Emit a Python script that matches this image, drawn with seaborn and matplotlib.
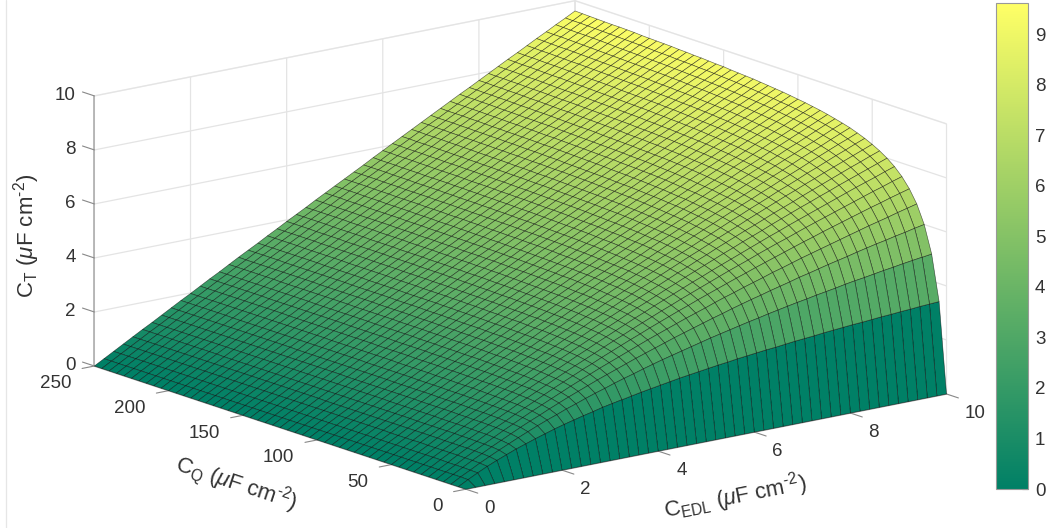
import numpy as np
import matplotlib
matplotlib.use('Agg')
import matplotlib.pyplot as plt
import seaborn as sns
from matplotlib.cm import ScalarMappable
from matplotlib.colors import Normalize
from matplotlib.lines import Line2D

# values; C_EDL columns kept every 0.2 (the original mesh is finer, every 0.1)
c_edl = [0, 0.2, 0.4, 0.6, 0.8, 1.0, 1.2, 1.4, 1.6, 1.8, 2.0,
         2.2, 2.4, 2.6, 2.8, 3.0, 3.2, 3.4, 3.6, 3.8, 4.0,
         4.2, 4.4, 4.6, 4.8, 5.0, 5.2, 5.4, 5.6, 5.8, 6.0,
         6.2, 6.4, 6.6, 6.8, 7.0, 7.2, 7.4, 7.6, 7.8, 8.0,
         8.2, 8.4, 8.6, 8.8, 9.0, 9.2, 9.4, 9.6, 9.8, 10.0]
c_q = [0, 5, 10, 15, 20, 25, 30, 35, 40, 45, 50, 55, 60, 65, 70, 75, 80, 85, 90, 95,
       100, 105, 110, 115, 120, 125, 130, 135, 140, 145, 150, 155, 160, 165, 170, 175,
       180, 185, 190, 195, 200, 205, 210, 215, 220, 225, 230, 235, 240, 245, 250]

ct_q000 = [0, 0, 0, 0, 0, 0, 0, 0, 0, 0, 0,
           0, 0, 0, 0, 0, 0, 0, 0, 0, 0,
           0, 0, 0, 0, 0, 0, 0, 0, 0, 0,
           0, 0, 0, 0, 0, 0, 0, 0, 0, 0,
           0, 0, 0, 0, 0, 0, 0, 0, 0, 0]
ct_q005 = [0, .19, .37, .54, .69, .83, .97, 1.09, 1.21, 1.32, 1.43,
           1.53, 1.62, 1.71, 1.79, 1.88, 1.95, 2.02, 2.09, 2.16, 2.22,
           2.28, 2.34, 2.40, 2.45, 2.50, 2.55, 2.60, 2.64, 2.69, 2.73,
           2.77, 2.81, 2.84, 2.88, 2.92, 2.95, 2.98, 3.02, 3.05, 3.08,
           3.11, 3.13, 3.16, 3.19, 3.21, 3.24, 3.26, 3.29, 3.31, 3.33]
ct_q010 = [0, .20, .38, .57, .74, .91, 1.07, 1.23, 1.38, 1.53, 1.67,
           1.80, 1.94, 2.06, 2.19, 2.31, 2.42, 2.54, 2.65, 2.75, 2.86,
           2.96, 3.06, 3.15, 3.24, 3.33, 3.42, 3.51, 3.59, 3.67, 3.75,
           3.83, 3.90, 3.98, 4.05, 4.12, 4.19, 4.25, 4.32, 4.38, 4.44,
           4.51, 4.57, 4.62, 4.68, 4.74, 4.79, 4.85, 4.90, 4.95, 5.00]
ct_q015 = [0, .20, .39, .58, .76, .94, 1.11, 1.28, 1.45, 1.61, 1.76,
           1.92, 2.07, 2.22, 2.36, 2.50, 2.64, 2.77, 2.90, 3.03, 3.16,
           3.28, 3.40, 3.52, 3.64, 3.75, 3.86, 3.97, 4.08, 4.18, 4.29,
           4.39, 4.49, 4.58, 4.68, 4.77, 4.86, 4.96, 5.04, 5.13, 5.22,
           5.30, 5.38, 5.47, 5.55, 5.63, 5.70, 5.78, 5.85, 5.93, 6.00]
ct_q020 = [0, .20, .39, .58, .77, .95, 1.13, 1.31, 1.48, 1.65, 1.82,
           1.98, 2.14, 2.30, 2.46, 2.61, 2.76, 2.91, 3.05, 3.19, 3.33,
           3.47, 3.61, 3.74, 3.87, 4.00, 4.13, 4.25, 4.37, 4.50, 4.62,
           4.73, 4.85, 4.96, 5.07, 5.19, 5.29, 5.40, 5.51, 5.61, 5.71,
           5.81, 5.91, 6.01, 6.11, 6.21, 6.30, 6.39, 6.49, 6.58, 6.67]
ct_q025 = [0, .20, .39, .59, .78, .96, 1.15, 1.33, 1.50, 1.68, 1.85,
           2.02, 2.19, 2.36, 2.52, 2.68, 2.84, 2.99, 3.15, 3.30, 3.45,
           3.60, 3.74, 3.89, 4.03, 4.17, 4.31, 4.44, 4.58, 4.71, 4.84,
           4.97, 5.10, 5.22, 5.35, 5.47, 5.59, 5.71, 5.83, 5.95, 6.06,
           6.18, 6.29, 6.40, 6.51, 6.62, 6.73, 6.83, 6.94, 7.04, 7.14]
ct_q030 = [0, .20, .40, .59, .78, .97, 1.15, 1.34, 1.52, 1.70, 1.88,
           2.05, 2.22, 2.39, 2.56, 2.73, 2.89, 3.05, 3.21, 3.37, 3.53,
           3.68, 3.84, 3.99, 4.14, 4.29, 4.43, 4.58, 4.72, 4.86, 5.00,
           5.14, 5.28, 5.41, 5.54, 5.68, 5.81, 5.94, 6.06, 6.19, 6.32,
           6.44, 6.56, 6.68, 6.80, 6.92, 7.04, 7.16, 7.27, 7.39, 7.50]
ct_q035 = [0, .20, .40, .59, .78, .97, 1.16, 1.35, 1.53, 1.71, 1.89,
           2.07, 2.25, 2.42, 2.59, 2.76, 2.93, 3.10, 3.26, 3.43, 3.59,
           3.75, 3.91, 4.07, 4.22, 4.38, 4.53, 4.68, 4.83, 4.98, 5.12,
           5.27, 5.41, 5.55, 5.69, 5.83, 5.97, 6.11, 6.24, 6.38, 6.51,
           6.64, 6.77, 6.90, 7.03, 7.16, 7.29, 7.41, 7.53, 7.66, 7.78]
ct_q040 = [0, .20, .40, .59, .78, .98, 1.17, 1.35, 1.54, 1.72, 1.90,
           2.09, 2.26, 2.44, 2.62, 2.79, 2.96, 3.13, 3.30, 3.47, 3.64,
           3.80, 3.96, 4.13, 4.29, 4.44, 4.60, 4.76, 4.91, 5.07, 5.22,
           5.37, 5.52, 5.67, 5.81, 5.96, 6.10, 6.24, 6.39, 6.53, 6.67,
           6.81, 6.94, 7.08, 7.21, 7.35, 7.48, 7.61, 7.74, 7.87, 8.00]
ct_q045 = [0, .20, .40, .59, .79, .98, 1.17, 1.36, 1.54, 1.73, 1.91,
           2.10, 2.28, 2.46, 2.64, 2.81, 2.99, 3.16, 3.33, 3.50, 3.67,
           3.84, 4.01, 4.17, 4.34, 4.50, 4.66, 4.82, 4.98, 5.14, 5.29,
           5.45, 5.60, 5.76, 5.91, 6.06, 6.21, 6.35, 6.50, 6.65, 6.79,
           6.93, 7.08, 7.22, 7.36, 7.50, 7.64, 7.78, 7.91, 8.05, 8.18]
ct_q050 = [0, .20, .40, .60, .79, .98, 1.17, 1.36, 1.55, 1.74, 1.92,
           2.11, 2.29, 2.47, 2.65, 2.83, 3.01, 3.18, 3.36, 3.53, 3.70,
           3.88, 4.04, 4.21, 4.38, 4.55, 4.71, 4.87, 5.04, 5.20, 5.36,
           5.52, 5.67, 5.83, 5.99, 6.14, 6.29, 6.45, 6.60, 6.75, 6.90,
           7.05, 7.19, 7.34, 7.48, 7.63, 7.77, 7.91, 8.05, 8.19, 8.33]
ct_q055 = [0, .20, .40, .59, .79, .98, 1.17, 1.37, 1.56, 1.74, 1.93,
           2.12, 2.30, 2.48, 2.67, 2.84, 3.02, 3.20, 3.38, 3.55, 3.73,
           3.90, 4.07, 4.25, 4.41, 4.58, 4.75, 4.92, 5.08, 5.25, 5.41,
           5.57, 5.73, 5.89, 6.05, 6.21, 6.37, 6.52, 6.68, 6.83, 6.98,
           7.14, 7.28, 7.43, 7.59, 7.73, 7.88, 8.03, 8.17, 8.32, 8.46]
ct_q060 = [0, .20, .40, .59, .79, .98, 1.18, 1.37, 1.56, 1.75, 1.94,
           2.12, 2.31, 2.49, 2.68, 2.86, 3.04, 3.22, 3.40, 3.57, 3.75,
           3.93, 4.10, 4.27, 4.44, 4.62, 4.79, 4.95, 5.12, 5.29, 5.45,
           5.62, 5.78, 5.95, 6.11, 6.27, 6.43, 6.59, 6.75, 6.90, 7.06,
           7.21, 7.37, 7.52, 7.67, 7.83, 7.98, 8.13, 8.28, 8.42, 8.57]
ct_q065 = [0, .20, .40, .59, .79, .98, 1.18, 1.37, 1.56, 1.75, 1.94,
           2.13, 2.32, 2.50, 2.69, 2.87, 3.05, 3.23, 3.42, 3.59, 3.77,
           3.95, 4.12, 4.30, 4.47, 4.64, 4.81, 4.99, 5.15, 5.32, 5.49,
           5.66, 5.83, 5.99, 6.15, 6.32, 6.48, 6.64, 6.81, 6.96, 7.12,
           7.28, 7.44, 7.59, 7.75, 7.91, 8.06, 8.21, 8.37, 8.52, 8.67]
ct_q070 = [0, .20, .40, .59, .79, .99, 1.18, 1.37, 1.56, 1.75, 1.94,
           2.13, 2.32, 2.51, 2.69, 2.88, 3.06, 3.24, 3.42, 3.60, 3.78,
           3.96, 4.14, 4.32, 4.49, 4.67, 4.84, 5.01, 5.18, 5.35, 5.53,
           5.70, 5.86, 6.03, 6.20, 6.36, 6.53, 6.69, 6.85, 7.02, 7.18,
           7.34, 7.50, 7.66, 7.82, 7.97, 8.13, 8.28, 8.44, 8.60, 8.75]
ct_q075 = [0, .20, .40, .60, .79, .99, 1.18, 1.37, 1.57, 1.76, 1.95,
           2.14, 2.33, 2.52, 2.70, 2.88, 3.07, 3.25, 3.43, 3.62, 3.80,
           3.98, 4.16, 4.33, 4.51, 4.69, 4.86, 5.03, 5.20, 5.38, 5.56,
           5.72, 5.89, 6.06, 6.23, 6.40, 6.56, 6.73, 6.89, 7.06, 7.23,
           7.39, 7.55, 7.71, 7.87, 8.04, 8.19, 8.35, 8.51, 8.67, 8.82]
ct_q080 = [0, .20, .40, .60, .79, .99, 1.18, 1.38, 1.57, 1.76, 1.95,
           2.14, 2.33, 2.52, 2.71, 2.89, 3.08, 3.26, 3.45, 3.62, 3.81,
           3.99, 4.17, 4.35, 4.53, 4.71, 4.88, 5.05, 5.23, 5.40, 5.58,
           5.75, 5.92, 6.09, 6.26, 6.44, 6.60, 6.77, 6.94, 7.10, 7.27,
           7.44, 7.60, 7.76, 7.93, 8.09, 8.25, 8.41, 8.57, 8.73, 8.89]
ct_q085 = [0, .20, .40, .60, .79, .99, 1.18, 1.38, 1.57, 1.76, 1.95,
           2.14, 2.33, 2.52, 2.71, 2.90, 3.08, 3.27, 3.45, 3.64, 3.82,
           4.00, 4.18, 4.37, 4.55, 4.72, 4.90, 5.07, 5.25, 5.43, 5.60,
           5.78, 5.95, 6.12, 6.29, 6.47, 6.64, 6.81, 6.97, 7.14, 7.31,
           7.48, 7.64, 7.81, 7.97, 8.14, 8.30, 8.46, 8.63, 8.79, 8.95]
ct_q090 = [0, .20, .40, .60, .79, .99, 1.18, 1.38, 1.57, 1.76, 1.96,
           2.15, 2.34, 2.53, 2.72, 2.90, 3.09, 3.27, 3.46, 3.64, 3.83,
           4.01, 4.19, 4.38, 4.55, 4.74, 4.91, 5.09, 5.27, 5.45, 5.63,
           5.80, 5.97, 6.14, 6.32, 6.49, 6.66, 6.83, 7.00, 7.18, 7.35,
           7.52, 7.68, 7.85, 8.02, 8.18, 8.35, 8.51, 8.68, 8.84, 9.00]
ct_q095 = [0, .20, .40, .60, .79, .99, 1.19, 1.38, 1.57, 1.77, 1.96,
           2.15, 2.34, 2.53, 2.72, 2.91, 3.10, 3.28, 3.47, 3.65, 3.84,
           4.02, 4.20, 4.39, 4.57, 4.75, 4.93, 5.11, 5.29, 5.46, 5.64,
           5.82, 6.00, 6.17, 6.34, 6.52, 6.69, 6.86, 7.04, 7.21, 7.38,
           7.55, 7.72, 7.89, 8.06, 8.22, 8.39, 8.56, 8.72, 8.89, 9.05]
ct_q100 = [0, .20, .40, .60, .79, .99, 1.19, 1.38, 1.57, 1.77, 1.96,
           2.15, 2.34, 2.53, 2.72, 2.91, 3.10, 3.29, 3.47, 3.66, 3.85,
           4.03, 4.21, 4.40, 4.58, 4.76, 4.94, 5.12, 5.30, 5.48, 5.66,
           5.84, 6.02, 6.19, 6.37, 6.54, 6.72, 6.89, 7.06, 7.24, 7.41,
           7.58, 7.75, 7.92, 8.09, 8.26, 8.42, 8.59, 8.76, 8.93, 9.09]
ct_q105 = [0, .20, .40, .60, .79, .99, 1.19, 1.38, 1.58, 1.77, 1.96,
           2.15, 2.35, 2.54, 2.73, 2.92, 3.10, 3.29, 3.48, 3.67, 3.85,
           4.04, 4.22, 4.41, 4.59, 4.77, 4.95, 5.14, 5.32, 5.50, 5.68,
           5.85, 6.04, 6.21, 6.39, 6.56, 6.74, 6.92, 7.09, 7.27, 7.43,
           7.61, 7.78, 7.95, 8.12, 8.29, 8.46, 8.63, 8.80, 8.96, 9.13]
ct_q110 = [0, .20, .40, .60, .79, .99, 1.19, 1.38, 1.58, 1.77, 1.96,
           2.16, 2.35, 2.54, 2.73, 2.92, 3.11, 3.30, 3.49, 3.67, 3.86,
           4.05, 4.23, 4.42, 4.60, 4.78, 4.97, 5.15, 5.33, 5.51, 5.69,
           5.87, 6.05, 6.23, 6.41, 6.58, 6.76, 6.94, 7.11, 7.29, 7.46,
           7.63, 7.81, 7.98, 8.15, 8.32, 8.49, 8.66, 8.83, 9.00, 9.17]
ct_q115 = [0, .20, .40, .60, .79, .99, 1.19, 1.38, 1.58, 1.77, 1.97,
           2.16, 2.35, 2.54, 2.73, 2.92, 3.11, 3.30, 3.49, 3.68, 3.87,
           4.05, 4.24, 4.42, 4.61, 4.79, 4.98, 5.16, 5.34, 5.52, 5.70,
           5.88, 6.06, 6.24, 6.42, 6.60, 6.78, 6.96, 7.13, 7.31, 7.48,
           7.66, 7.83, 8.00, 8.18, 8.35, 8.52, 8.69, 8.86, 9.03, 9.20]
ct_q120 = [0, .20, .40, .60, .79, .99, 1.19, 1.38, 1.58, 1.77, 1.97,
           2.16, 2.35, 2.55, 2.74, 2.93, 3.12, 3.31, 3.50, 3.68, 3.87,
           4.06, 4.25, 4.43, 4.62, 4.80, 4.99, 5.17, 5.35, 5.53, 5.71,
           5.90, 6.08, 6.26, 6.44, 6.61, 6.79, 6.97, 7.15, 7.33, 7.50,
           7.68, 7.85, 8.03, 8.20, 8.37, 8.55, 8.72, 8.89, 9.06, 9.23]
ct_q125 = [0, .20, .40, .60, .80, .99, 1.19, 1.38, 1.58, 1.77, 1.97,
           2.16, 2.35, 2.55, 2.74, 2.93, 3.12, 3.31, 3.50, 3.69, 3.88,
           4.07, 4.25, 4.44, 4.62, 4.81, 4.99, 5.18, 5.36, 5.54, 5.73,
           5.91, 6.09, 6.27, 6.45, 6.62, 6.81, 6.99, 7.17, 7.34, 7.52,
           7.70, 7.87, 8.05, 8.22, 8.40, 8.57, 8.74, 8.91, 9.09, 9.26]
ct_q130 = [0, .20, .40, .60, .80, .99, 1.19, 1.39, 1.58, 1.78, 1.97,
           2.16, 2.36, 2.55, 2.74, 2.93, 3.12, 3.32, 3.51, 3.69, 3.88,
           4.07, 4.26, 4.45, 4.63, 4.81, 5.00, 5.19, 5.37, 5.55, 5.74,
           5.92, 6.10, 6.28, 6.46, 6.64, 6.82, 7.00, 7.18, 7.36, 7.54,
           7.72, 7.89, 8.07, 8.24, 8.42, 8.59, 8.77, 8.94, 9.11, 9.29]
ct_q135 = [0, .20, .40, .60, .80, .99, 1.19, 1.39, 1.58, 1.78, 1.97,
           2.17, 2.36, 2.55, 2.74, 2.94, 3.13, 3.32, 3.51, 3.70, 3.89,
           4.07, 4.26, 4.45, 4.64, 4.82, 5.01, 5.19, 5.38, 5.56, 5.75,
           5.93, 6.11, 6.29, 6.48, 6.65, 6.83, 7.01, 7.19, 7.37, 7.55,
           7.73, 7.91, 8.09, 8.26, 8.44, 8.61, 8.79, 8.96, 9.14, 9.31]
ct_q140 = [0, .20, .40, .60, .80, .99, 1.19, 1.39, 1.58, 1.78, 1.97,
           2.17, 2.36, 2.55, 2.75, 2.94, 3.13, 3.32, 3.51, 3.70, 3.89,
           4.08, 4.27, 4.46, 4.64, 4.83, 5.01, 5.20, 5.39, 5.57, 5.75,
           5.94, 6.12, 6.30, 6.49, 6.66, 6.85, 7.03, 7.21, 7.39, 7.57,
           7.75, 7.92, 8.10, 8.28, 8.46, 8.63, 8.81, 8.98, 9.16, 9.33]
ct_q145 = [0, .20, .40, .60, .80, .99, 1.19, 1.39, 1.58, 1.78, 1.97,
           2.17, 2.36, 2.55, 2.75, 2.94, 3.13, 3.32, 3.51, 3.70, 3.90,
           4.08, 4.27, 4.46, 4.65, 4.83, 5.02, 5.21, 5.39, 5.58, 5.76,
           5.94, 6.13, 6.31, 6.50, 6.67, 6.86, 7.04, 7.22, 7.40, 7.58,
           7.76, 7.94, 8.12, 8.30, 8.47, 8.65, 8.83, 9.00, 9.18, 9.35]
ct_q150 = [0, .20, .40, .60, .80, .99, 1.19, 1.39, 1.58, 1.78, 1.97,
           2.17, 2.36, 2.56, 2.75, 2.94, 3.13, 3.32, 3.52, 3.71, 3.90,
           4.09, 4.27, 4.46, 4.65, 4.84, 5.02, 5.21, 5.40, 5.58, 5.77,
           5.95, 6.14, 6.32, 6.51, 6.68, 6.87, 7.05, 7.23, 7.41, 7.59,
           7.77, 7.95, 8.13, 8.31, 8.49, 8.67, 8.84, 9.02, 9.20, 9.38]
ct_q155 = [0, .20, .40, .60, .80, .99, 1.19, 1.39, 1.58, 1.78, 1.97,
           2.17, 2.36, 2.56, 2.75, 2.94, 3.14, 3.33, 3.52, 3.71, 3.90,
           4.09, 4.28, 4.47, 4.66, 4.84, 5.03, 5.22, 5.41, 5.59, 5.78,
           5.96, 6.15, 6.33, 6.52, 6.69, 6.88, 7.06, 7.24, 7.42, 7.61,
           7.79, 7.97, 8.15, 8.33, 8.51, 8.68, 8.86, 9.04, 9.22, 9.39]
ct_q160 = [0, .20, .40, .60, .80, .99, 1.19, 1.39, 1.58, 1.78, 1.98,
           2.17, 2.37, 2.56, 2.75, 2.95, 3.14, 3.33, 3.52, 3.71, 3.90,
           4.09, 4.28, 4.47, 4.66, 4.85, 5.04, 5.22, 5.41, 5.60, 5.78,
           5.97, 6.15, 6.34, 6.52, 6.70, 6.89, 7.07, 7.25, 7.43, 7.62,
           7.80, 7.98, 8.16, 8.34, 8.52, 8.70, 8.88, 9.05, 9.23, 9.41]
ct_q165 = [0, .20, .40, .60, .80, .99, 1.19, 1.39, 1.58, 1.78, 1.98,
           2.17, 2.37, 2.56, 2.75, 2.95, 3.14, 3.33, 3.52, 3.71, 3.91,
           4.10, 4.29, 4.47, 4.66, 4.85, 5.04, 5.23, 5.42, 5.60, 5.79,
           5.97, 6.16, 6.34, 6.53, 6.72, 6.90, 7.08, 7.26, 7.45, 7.63,
           7.81, 7.99, 8.17, 8.35, 8.53, 8.71, 8.89, 9.07, 9.25, 9.43]
ct_q170 = [0, .20, .40, .60, .80, .99, 1.19, 1.39, 1.59, 1.78, 1.98,
           2.17, 2.37, 2.56, 2.76, 2.95, 3.14, 3.33, 3.53, 3.72, 3.91,
           4.10, 4.29, 4.48, 4.67, 4.86, 5.05, 5.23, 5.42, 5.61, 5.79,
           5.98, 6.17, 6.35, 6.54, 6.72, 6.91, 7.09, 7.27, 7.46, 7.64,
           7.82, 8.00, 8.18, 8.36, 8.55, 8.72, 8.91, 9.08, 9.26, 9.44]
ct_q175 = [0, .20, .40, .60, .80, .99, 1.19, 1.39, 1.59, 1.78, 1.98,
           2.17, 2.37, 2.56, 2.76, 2.95, 3.14, 3.33, 3.53, 3.72, 3.91,
           4.10, 4.29, 4.48, 4.67, 4.86, 5.05, 5.24, 5.43, 5.61, 5.80,
           5.99, 6.17, 6.36, 6.54, 6.73, 6.92, 7.10, 7.28, 7.46, 7.65,
           7.83, 8.01, 8.19, 8.37, 8.56, 8.74, 8.92, 9.10, 9.27, 9.46]
ct_q180 = [0, .20, .40, .60, .80, .99, 1.19, 1.39, 1.59, 1.78, 1.98,
           2.17, 2.37, 2.56, 2.76, 2.95, 3.14, 3.34, 3.53, 3.72, 3.91,
           4.10, 4.29, 4.48, 4.67, 4.86, 5.05, 5.24, 5.43, 5.62, 5.81,
           5.99, 6.18, 6.36, 6.55, 6.74, 6.92, 7.11, 7.29, 7.47, 7.66,
           7.84, 8.02, 8.20, 8.38, 8.57, 8.75, 8.93, 9.11, 9.29, 9.47]
ct_q185 = [0, .20, .40, .60, .80, .99, 1.19, 1.39, 1.59, 1.78, 1.98,
           2.17, 2.37, 2.56, 2.76, 2.95, 3.15, 3.34, 3.53, 3.72, 3.92,
           4.11, 4.30, 4.49, 4.68, 4.87, 5.06, 5.25, 5.43, 5.62, 5.81,
           6.00, 6.18, 6.37, 6.56, 6.74, 6.93, 7.11, 7.30, 7.48, 7.67,
           7.85, 8.03, 8.21, 8.40, 8.58, 8.76, 8.94, 9.12, 9.30, 9.49]
ct_q190 = [0, .20, .40, .60, .80, .99, 1.19, 1.39, 1.59, 1.78, 1.98,
           2.17, 2.37, 2.57, 2.76, 2.95, 3.15, 3.34, 3.53, 3.73, 3.92,
           4.11, 4.30, 4.49, 4.68, 4.87, 5.06, 5.25, 5.44, 5.63, 5.81,
           6.00, 6.19, 6.38, 6.56, 6.75, 6.94, 7.12, 7.31, 7.49, 7.68,
           7.86, 8.04, 8.22, 8.41, 8.59, 8.77, 8.95, 9.13, 9.31, 9.50]
ct_q195 = [0, .20, .40, .60, .80, .99, 1.19, 1.39, 1.59, 1.78, 1.98,
           2.18, 2.37, 2.57, 2.76, 2.95, 3.15, 3.34, 3.53, 3.73, 3.92,
           4.11, 4.30, 4.49, 4.68, 4.87, 5.06, 5.25, 5.44, 5.63, 5.82,
           6.01, 6.19, 6.38, 6.57, 6.76, 6.94, 7.13, 7.31, 7.50, 7.68,
           7.87, 8.05, 8.23, 8.42, 8.60, 8.78, 8.96, 9.14, 9.33, 9.51]
ct_q200 = [0, .20, .40, .60, .80, 1.00, 1.19, 1.39, 1.59, 1.78, 1.98,
           2.18, 2.37, 2.57, 2.76, 2.96, 3.15, 3.34, 3.54, 3.73, 3.92,
           4.11, 4.30, 4.50, 4.69, 4.88, 5.07, 5.26, 5.45, 5.64, 5.83,
           6.01, 6.20, 6.39, 6.57, 6.76, 6.95, 7.13, 7.32, 7.51, 7.69,
           7.87, 8.06, 8.24, 8.42, 8.61, 8.79, 8.97, 9.15, 9.34, 9.52]
ct_q205 = [0, .20, .40, .60, .80, 1.00, 1.19, 1.39, 1.59, 1.78, 1.98,
           2.18, 2.37, 2.57, 2.76, 2.96, 3.15, 3.34, 3.54, 3.73, 3.92,
           4.12, 4.31, 4.50, 4.69, 4.88, 5.07, 5.26, 5.45, 5.64, 5.83,
           6.02, 6.20, 6.39, 6.58, 6.77, 6.95, 7.14, 7.32, 7.51, 7.70,
           7.88, 8.06, 8.25, 8.43, 8.62, 8.80, 8.98, 9.16, 9.35, 9.53]
ct_q210 = [0, .20, .40, .60, .80, 1.00, 1.19, 1.39, 1.59, 1.78, 1.98,
           2.18, 2.37, 2.57, 2.76, 2.96, 3.15, 3.35, 3.54, 3.73, 3.92,
           4.12, 4.31, 4.50, 4.69, 4.88, 5.07, 5.26, 5.45, 5.64, 5.83,
           6.02, 6.21, 6.40, 6.58, 6.77, 6.96, 7.14, 7.33, 7.52, 7.71,
           7.89, 8.07, 8.26, 8.44, 8.63, 8.81, 8.99, 9.17, 9.36, 9.55]
ct_q215 = [0, .20, .40, .60, .80, 1.00, 1.19, 1.39, 1.59, 1.78, 1.98,
           2.18, 2.38, 2.57, 2.76, 2.96, 3.15, 3.35, 3.54, 3.73, 3.93,
           4.12, 4.31, 4.50, 4.69, 4.88, 5.07, 5.26, 5.45, 5.64, 5.83,
           6.02, 6.21, 6.40, 6.59, 6.78, 6.96, 7.15, 7.34, 7.52, 7.71,
           7.90, 8.08, 8.27, 8.45, 8.64, 8.82, 9.00, 9.19, 9.37, 9.56]
ct_q220 = [0, .20, .40, .60, .80, 1.00, 1.19, 1.39, 1.59, 1.79, 1.98,
           2.18, 2.38, 2.57, 2.77, 2.96, 3.15, 3.35, 3.54, 3.73, 3.93,
           4.12, 4.31, 4.50, 4.69, 4.89, 5.08, 5.27, 5.46, 5.65, 5.84,
           6.03, 6.22, 6.41, 6.59, 6.78, 6.97, 7.16, 7.34, 7.53, 7.72,
           7.90, 8.09, 8.27, 8.46, 8.64, 8.83, 9.01, 9.20, 9.38, 9.57]
ct_q225 = [0, .20, .40, .60, .80, 1.00, 1.19, 1.39, 1.59, 1.79, 1.98,
           2.18, 2.38, 2.57, 2.77, 2.96, 3.15, 3.35, 3.54, 3.74, 3.93,
           4.12, 4.32, 4.51, 4.70, 4.89, 5.08, 5.27, 5.46, 5.65, 5.84,
           6.03, 6.22, 6.41, 6.60, 6.79, 6.98, 7.16, 7.35, 7.54, 7.73,
           7.91, 8.10, 8.28, 8.47, 8.65, 8.84, 9.02, 9.21, 9.39, 9.57]
ct_q230 = [0, .20, .40, .60, .80, 1.00, 1.19, 1.39, 1.59, 1.79, 1.98,
           2.18, 2.38, 2.57, 2.77, 2.96, 3.16, 3.35, 3.55, 3.74, 3.93,
           4.13, 4.32, 4.51, 4.70, 4.89, 5.08, 5.27, 5.46, 5.65, 5.85,
           6.04, 6.23, 6.42, 6.60, 6.79, 6.98, 7.17, 7.36, 7.54, 7.73,
           7.92, 8.10, 8.29, 8.47, 8.66, 8.85, 9.03, 9.22, 9.40, 9.58]
ct_q235 = [0, .20, .40, .60, .80, 1.00, 1.19, 1.39, 1.59, 1.79, 1.98,
           2.18, 2.38, 2.57, 2.77, 2.96, 3.16, 3.35, 3.55, 3.74, 3.94,
           4.13, 4.32, 4.51, 4.70, 4.90, 5.09, 5.28, 5.47, 5.66, 5.85,
           6.04, 6.23, 6.42, 6.61, 6.80, 6.99, 7.17, 7.36, 7.55, 7.74,
           7.92, 8.11, 8.30, 8.48, 8.67, 8.85, 9.04, 9.22, 9.41, 9.59]
ct_q240 = [0, .20, .40, .60, .80, 1.00, 1.19, 1.39, 1.59, 1.79, 1.98,
           2.18, 2.38, 2.57, 2.77, 2.96, 3.16, 3.35, 3.55, 3.74, 3.94,
           4.13, 4.32, 4.51, 4.71, 4.90, 5.09, 5.28, 5.47, 5.66, 5.85,
           6.04, 6.23, 6.42, 6.61, 6.80, 6.99, 7.18, 7.37, 7.55, 7.74,
           7.93, 8.12, 8.30, 8.49, 8.67, 8.86, 9.05, 9.23, 9.42, 9.60]
ct_q245 = [0, .20, .40, .60, .80, 1.00, 1.19, 1.39, 1.59, 1.79, 1.98,
           2.18, 2.38, 2.57, 2.77, 2.96, 3.16, 3.35, 3.55, 3.74, 3.94,
           4.13, 4.32, 4.52, 4.71, 4.90, 5.09, 5.28, 5.47, 5.66, 5.86,
           6.05, 6.24, 6.43, 6.62, 6.80, 6.99, 7.18, 7.37, 7.56, 7.75,
           7.93, 8.12, 8.31, 8.49, 8.68, 8.87, 9.05, 9.24, 9.42, 9.61]
ct_q250 = [0, .20, .40, .60, .80, 1.00, 1.19, 1.39, 1.59, 1.79, 1.98,
           2.18, 2.38, 2.57, 2.77, 2.97, 3.16, 3.35, 3.55, 3.74, 3.94,
           4.13, 4.32, 4.52, 4.71, 4.90, 5.09, 5.28, 5.47, 5.67, 5.86,
           6.05, 6.24, 6.43, 6.62, 6.81, 7.00, 7.19, 7.38, 7.56, 7.75,
           7.94, 8.13, 8.32, 8.50, 8.69, 8.88, 9.06, 9.25, 9.43, 9.62]

ct = np.array([ct_q000, ct_q005, ct_q010, ct_q015, ct_q020, ct_q025, ct_q030, ct_q035, ct_q040,
               ct_q045, ct_q050, ct_q055, ct_q060, ct_q065, ct_q070, ct_q075, ct_q080, ct_q085,
               ct_q090, ct_q095, ct_q100, ct_q105, ct_q110, ct_q115, ct_q120, ct_q125, ct_q130,
               ct_q135, ct_q140, ct_q145, ct_q150, ct_q155, ct_q160, ct_q165, ct_q170, ct_q175,
               ct_q180, ct_q185, ct_q190, ct_q195, ct_q200, ct_q205, ct_q210, ct_q215, ct_q220,
               ct_q225, ct_q230, ct_q235, ct_q240, ct_q245, ct_q250])

sns.set_style('white')
plt.rcParams['font.family'] = ['Liberation Sans', 'DejaVu Sans']
plt.rcParams['mathtext.fontset'] = 'custom'
plt.rcParams['mathtext.rm'] = 'Liberation Sans'
plt.rcParams['mathtext.it'] = 'Liberation Sans:italic'
plt.rcParams['grid.color'] = '#e4e4e4'
plt.rcParams['grid.linewidth'] = 0.9

W, H = 1051, 528
fig = plt.figure(figsize=(W / 100, H / 100), dpi=100)
S = 877
ax = fig.add_axes([70.1 / W, -167.3 / H, S / W, S / H], projection='3d')
ax.set_proj_type('ortho')
ax.view_init(elev=14.85, azim=-127.7)
ax.set_box_aspect((1, 1, 0.46))
ax.patch.set_alpha(0)

cmap = sns.color_palette('summer', as_cmap=True)
norm = Normalize(0, ct.max())
X, Y = np.meshgrid(c_edl, c_q)
ax.plot_surface(X, Y, ct, rstride=1, cstride=1, facecolors=cmap(norm(ct)),
                shade=False, edgecolor=(0, 0, 0, 0.6), linewidth=0.45)

ax.set_xlim(0, 10, view_margin=0)
ax.set_ylim(0, 250, view_margin=0)
ax.set_zlim(0, 10, view_margin=0)
ax.set_xticks([0, 2, 4, 6, 8, 10])
ax.set_yticks([0, 50, 100, 150, 200, 250])
ax.set_zticks([0, 2, 4, 6, 8, 10])

for axis in (ax.xaxis, ax.yaxis, ax.zaxis):
    axis.pane.set_facecolor('white')
    axis.pane.set_edgecolor('#e4e4e4')
    axis.line.set_color('#a8a8a8')
    axis.line.set_linewidth(1.1)
    axis._axinfo['tick']['inward_factor'] = 0.0
ax.xaxis._axinfo['tick']['outward_factor'] = -0.4
ax.yaxis._axinfo['tick']['outward_factor'] = -0.32
ax.zaxis._axinfo['tick']['outward_factor'] = 0.4
# z ticks point along the C_Q direction in the original
ax.zaxis._get_tickdir = lambda position: 1

for name in ('x', 'y'):
    ax.tick_params(axis=name, labelsize=13.5, labelcolor='#333333', color='#888888', width=0.8, pad=8)
ax.tick_params(axis='z', labelsize=13.5, labelcolor='#333333', color='#888888', width=0.8, pad=-0.8)
for t in ax.xaxis.get_major_ticks():
    t.label1.set(ha='left', va='center')
for t in ax.yaxis.get_major_ticks():
    t.label1.set(ha='right', va='center')
for t in ax.zaxis.get_major_ticks():
    t.label1.set(ha='right', va='center')

unit = r' ($\mu$F cm$^{\text{-2}}$)'
fig.text(735 / W, 1 - 497 / H, r'C$_{\mathrm{EDL}}$' + unit, fontsize=16, color='#333333',
         rotation=11.2, ha='center', va='center', rotation_mode='anchor')
fig.text(236 / W, 1 - 484 / H, r'C$_{\mathrm{Q}}$' + unit, fontsize=16, color='#333333',
         rotation=-18.3, ha='center', va='center', rotation_mode='anchor')
fig.text(27 / W, 1 - 236 / H, r'C$_{\mathrm{T}}$' + unit, fontsize=16, color='#333333',
         rotation=90, ha='center', va='center', rotation_mode='anchor')

cax = fig.add_axes([996 / W, 39 / H, 32 / W, 486 / H])
cb = fig.colorbar(ScalarMappable(norm=norm, cmap=cmap), cax=cax, ticks=range(10))
cb.ax.tick_params(direction='in', length=4, width=0.8, color='#555555', labelsize=13.5, labelcolor='#333333', pad=5)
cb.outline.set_edgecolor('#999999')

fig.add_artist(Line2D([6 / W, 6 / W], [0, 1], color='#e6e6e6', lw=0.9))
fig.savefig('out.png', dpi=100)
